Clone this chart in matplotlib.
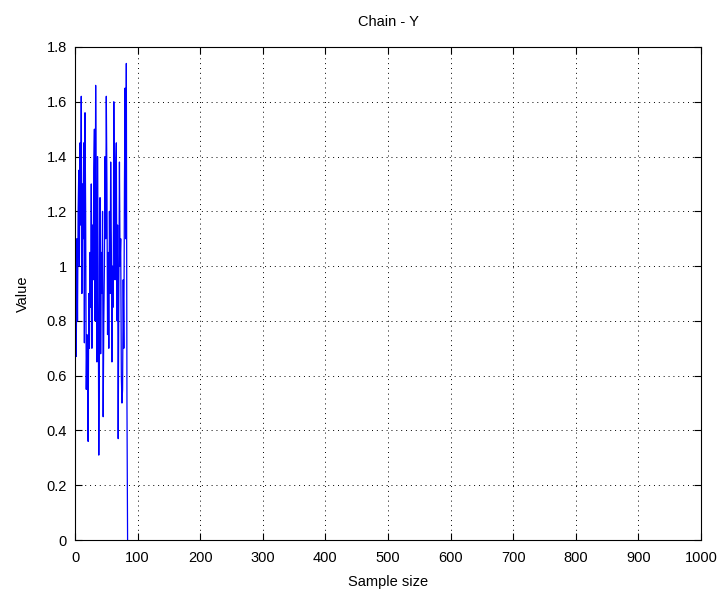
import numpy as np
import matplotlib
matplotlib.use('Agg')
import matplotlib.pyplot as plt

plt.rcParams['font.family'] = ['Liberation Sans', 'DejaVu Sans']

# chain values (chain stops early and drops to 0)
chain_y = [0.97, 0.67, 1.10, 0.80, 1.20, 1.35, 1.00, 1.45, 1.15, 1.62,
           0.90, 1.30, 1.10, 1.45, 0.72, 1.56, 1.20, 0.55, 0.75, 0.58,
           0.36, 0.90, 0.70, 1.05, 0.85, 1.30, 0.70, 1.15, 0.95, 1.35,
           1.50, 0.80, 1.66, 1.20, 0.65, 1.40, 1.00, 0.31, 0.70, 1.25,
           0.68, 1.05, 0.90, 1.20, 0.45, 0.80, 1.00, 1.40, 1.10, 1.62,
           1.30, 0.75, 1.05, 0.70, 1.20, 0.90, 1.38, 1.10, 0.65, 1.00,
           0.85, 1.60, 1.20, 0.95, 1.35, 1.45, 0.80, 1.15, 0.37, 0.90,
           1.38, 1.00, 1.10, 0.60, 0.50, 0.55, 0.95, 0.70, 1.30, 1.65,
           1.10, 1.74, 0.50, 0.00]
sample = np.arange(1, len(chain_y) + 1)

xticks = np.arange(0, 1001, 100)
yticks = np.arange(0, 1.81, 0.2)
ylabels = ['0', '0.2', '0.4', '0.6', '0.8', '1', '1.2', '1.4', '1.6', '1.8']

fig = plt.figure(figsize=(7.24, 5.91), dpi=100)
ax = fig.add_axes([75 / 724, 51 / 591, 626 / 724, 493 / 591])
ax.plot(sample, chain_y, color=(0, 0, 1), lw=0.9)

ax.set_xlim(0, 1000)
ax.set_ylim(0, 1.8)
ax.set_xticks(xticks)
ax.set_yticks(yticks)
ax.set_yticklabels(ylabels)
ax.grid(True, color='black', linestyle=(0, (1, 4)), linewidth=0.7)
ax.tick_params(direction='in', top=True, right=True, labelsize=10.5, length=5)
ax.tick_params(axis='x', pad=8)
ax.tick_params(axis='y', pad=6)
for s in ax.spines.values():
    s.set_linewidth(0.8)

ax.set_title('Chain - Y', fontsize=10.5, pad=15)
ax.set_xlabel('Sample size', fontsize=10.5, labelpad=7)
ax.set_ylabel('Value', fontsize=10.5, labelpad=12)

fig.savefig('out.png', dpi=100)
